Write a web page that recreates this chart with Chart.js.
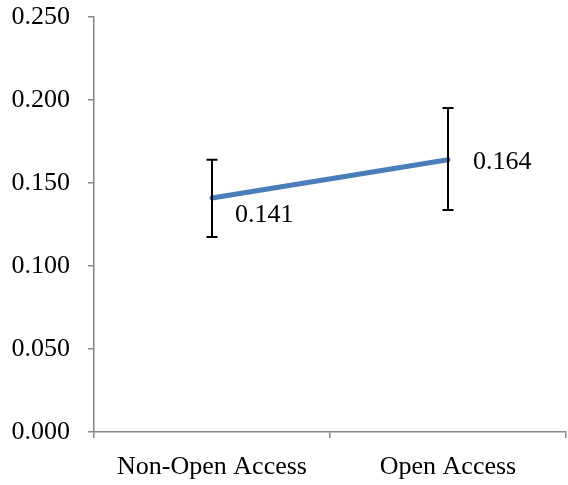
<!DOCTYPE html>
<html>
<head>
<meta charset="utf-8">
<script src="https://cdn.jsdelivr.net/npm/chart.js@4"></script>
<style>
  html, body { margin:0; padding:0; background:#fff; }
  #wrap { width:568px; height:485px; position:relative; }
</style>
</head>
<body>
<div id="wrap"><canvas id="chart"></canvas></div>
<script>
const categories = ['Non-Open Access', 'Open Access'];
const means = [0.141, 0.164];
const errLow = [0.1175, 0.1337];
const errHigh = [0.1640, 0.1952];
const yTicks = [0, 0.05, 0.10, 0.15, 0.20, 0.25];

const FONT = "'Liberation Serif', 'Times New Roman', serif";
const FONT_SIZE = 26;
// where each value label sits relative to its point (px)
const labelShift = [{dx:23, dy:17}, {dx:25, dy:2}];

const errorBars = {
  id:'errorBars',
  afterDatasetsDraw(chart){
    const {ctx, scales:{x, y}} = chart;
    ctx.save();
    ctx.strokeStyle = '#000';
    ctx.lineWidth = 2;
    means.forEach((m, i) => {
      const px = x.getPixelForValue(i);
      const top = y.getPixelForValue(errHigh[i]);
      const bot = y.getPixelForValue(errLow[i]);
      ctx.beginPath();
      ctx.moveTo(px, top); ctx.lineTo(px, bot);
      ctx.moveTo(px - 5.5, top); ctx.lineTo(px + 5.5, top);
      ctx.moveTo(px - 5.5, bot); ctx.lineTo(px + 5.5, bot);
      ctx.stroke();
    });
    ctx.restore();
  }
};

const valueLabels = {
  id:'valueLabels',
  afterDraw(chart){
    const {ctx, scales:{x, y}} = chart;
    ctx.save();
    ctx.fillStyle = '#000';
    ctx.font = FONT_SIZE + 'px ' + FONT;
    ctx.textAlign = 'left';
    ctx.textBaseline = 'middle';
    means.forEach((m, i) => {
      const px = x.getPixelForValue(i) + labelShift[i].dx;
      const py = y.getPixelForValue(m) + labelShift[i].dy;
      ctx.fillText(m.toFixed(3), px, py);
    });
    ctx.restore();
  }
};

new Chart(document.getElementById('chart'), {
  type:'line',
  data:{
    labels:categories,
    datasets:[{
      data:means,
      borderColor:'#4a7ebb',
      borderWidth:5,
      pointRadius:0,
      tension:0,
      borderCapStyle:'round'
    }]
  },
  options:{
    responsive:true,
    maintainAspectRatio:false,
    animation:false,
    layout:{padding:{top:17, right:2, left:0, bottom:0}},
    plugins:{legend:{display:false}, tooltip:{enabled:false}},
    scales:{
      x:{
        offset:true,
        afterFit(axis){ axis.height = 53; axis.paddingLeft = 0; axis.paddingRight = 0; },
        grid:{offset:true, drawOnChartArea:false, tickLength:6, color:'#868686', lineWidth:1.5},
        border:{color:'#868686', width:1.5},
        ticks:{color:'#000', font:{family:FONT, size:FONT_SIZE}, padding:14, maxRotation:0}
      },
      y:{
        min:0, max:0.25,
        afterFit(axis){ axis.width = 94; axis.paddingTop = 0; axis.paddingBottom = 0; },
        afterBuildTicks(axis){ axis.ticks = yTicks.map(v => ({value:v})); },
        grid:{drawOnChartArea:false, tickLength:6, color:'#868686', lineWidth:1.5},
        border:{color:'#868686', width:1.5},
        ticks:{color:'#000', font:{family:FONT, size:FONT_SIZE}, padding:18, callback:v => Number(v).toFixed(3)}
      }
    }
  },
  plugins:[errorBars, valueLabels]
});
</script>
</body>
</html>
